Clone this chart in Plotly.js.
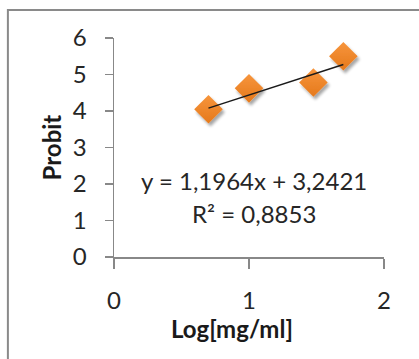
<!DOCTYPE html>
<html>
<head>
<meta charset="utf-8">
<script src="https://cdn.plot.ly/plotly-3.0.1.min.js"></script>
<style>
html,body{margin:0;padding:0;background:#fff;}
#chart{width:419px;height:359px;}
.scatterlayer .trace:first-child .points path{filter:url(#mkshadow);}
</style>
</head>
<body>
<svg width="0" height="0" style="position:absolute">
  <defs>
    <filter id="mkshadow" x="-50%" y="-50%" width="200%" height="200%">
      <feGaussianBlur in="SourceAlpha" stdDeviation="1.6"/>
      <feOffset dx="2" dy="3" result="ob"/>
      <feComponentTransfer><feFuncA type="linear" slope="0.35"/></feComponentTransfer>
      <feMerge><feMergeNode/><feMergeNode in="SourceGraphic"/></feMerge>
    </filter>
  </defs>
</svg>
<div id="chart"></div>
<script>
// Data
var logConc = [0.7, 1.0, 1.477, 1.699];
var probit = [4.05, 4.62, 4.78, 5.5];
// Linear trendline coefficients (as printed on the chart)
var slope = [1.1964];
var intercept = [3.2421];
var rSquared = [0.8853];
var xTicks = [0, 1, 2];
var yTicks = [0, 1, 2, 3, 4, 5, 6];

function fmt(v, d) { return v.toFixed(d).replace('.', ','); }

var xMin = Math.min.apply(null, logConc);
var xMax = Math.max.apply(null, logConc);
var trendX = [xMin, xMax];
var trendY = trendX.map(function (x) { return slope[0] * x + intercept[0]; });

var font = 'Lato, "Open Sans", sans-serif';
var fs = 24;

var traces = [
  {
    x: logConc, y: probit, type: 'scatter', mode: 'markers',
    marker: {symbol: 'diamond', size: 22, color: '#F7953C',
             gradient: {type: 'vertical', color: '#E5791C'},
             line: {width: 0}},
    hoverinfo: 'x+y', showlegend: false
  },
  {
    x: trendX, y: trendY, type: 'scatter', mode: 'lines',
    line: {color: '#1a1a1a', width: 1.5}, showlegend: false, hoverinfo: 'skip'
  }
];

var layout = {
  width: 419, height: 359,
  margin: {l: 114, r: 35, t: 38, b: 102, pad: 0},
  paper_bgcolor: '#ffffff', plot_bgcolor: '#ffffff',
  font: {family: font, size: fs, color: '#262626'},
  showlegend: false,
  xaxis: {
    range: [0, 2], tickvals: xTicks, ticktext: xTicks.map(String),
    showgrid: false, zeroline: false, showline: true, linecolor: '#888888', linewidth: 1.5,
    ticks: 'outside', ticklen: 10, tickcolor: '#888888', tickwidth: 1.5,
    ticklabelstandoff: 12, tickfont: {family: font, size: fs, color: '#262626'}
  },
  yaxis: {
    range: [0, 6], tickvals: yTicks, ticktext: yTicks.map(String),
    showgrid: false, zeroline: false, showline: true, linecolor: '#888888', linewidth: 1.5,
    ticks: 'outside', ticklen: 8, tickcolor: '#888888', tickwidth: 1.5,
    ticklabelstandoff: 13, tickfont: {family: font, size: fs, color: '#262626'}
  },
  annotations: [
    {xref: 'x', yref: 'y', x: 1.04, y: 2.1, xanchor: 'center', yanchor: 'middle', showarrow: false,
     text: 'y = ' + fmt(slope[0], 4) + 'x + ' + fmt(intercept[0], 4),
     font: {family: font, size: fs, color: '#262626'}},
    {xref: 'x', yref: 'y', x: 1.04, y: 1.2, xanchor: 'center', yanchor: 'middle', showarrow: false,
     text: 'R² = ' + fmt(rSquared[0], 4),
     font: {family: font, size: fs, color: '#262626'}},
    {xref: 'paper', yref: 'paper', x: 0.438, y: -0.325, xanchor: 'center', yanchor: 'middle', showarrow: false,
     text: '<b>Log[mg/ml]</b>', font: {family: font, size: fs, color: '#1a1a1a'}},
    {xref: 'paper', yref: 'paper', x: -0.23, y: 0.5, xanchor: 'center', yanchor: 'middle', showarrow: false, textangle: -90,
     text: '<b>Probit</b>', font: {family: font, size: fs, color: '#1a1a1a'}}
  ],
  shapes: [
    {type: 'rect', xref: 'paper', yref: 'paper', x0: -0.393, x1: 1.3, y0: -0.6, y1: 1.128,
     line: {color: '#8a8a8a', width: 2}, fillcolor: 'rgba(0,0,0,0)', layer: 'below'}
  ]
};

Plotly.newPlot('chart', traces, layout, {displayModeBar: false, staticPlot: true});
</script>
</body>
</html>
